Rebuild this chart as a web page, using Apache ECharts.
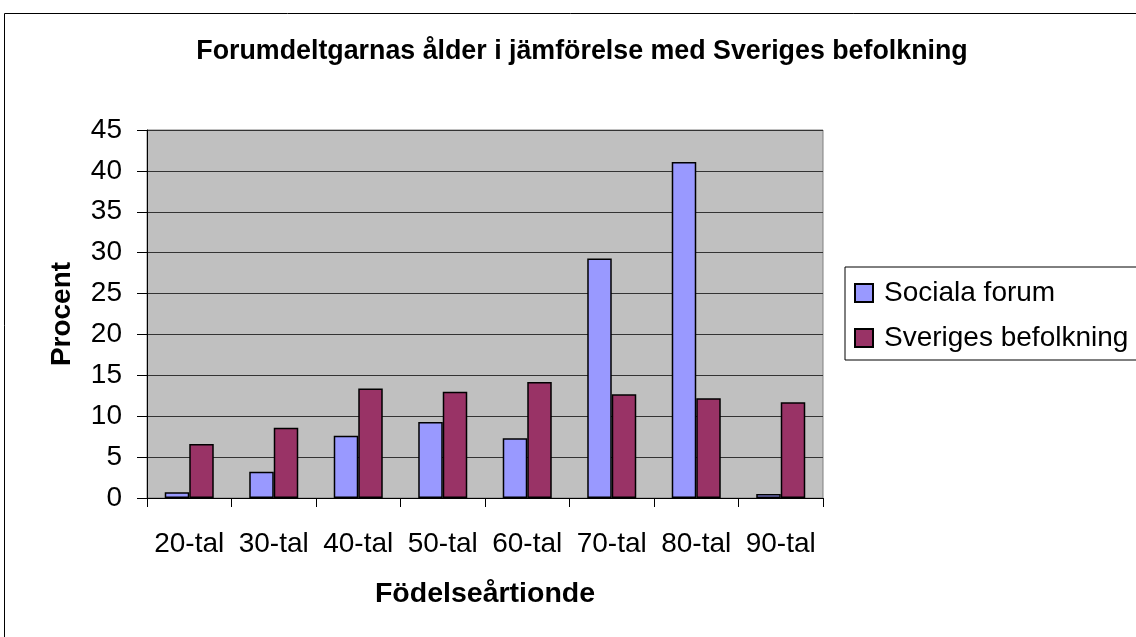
<!DOCTYPE html>
<html>
<head>
<meta charset="utf-8">
<script src="https://cdn.jsdelivr.net/npm/echarts@6/dist/echarts.min.js"></script>
<style>
  html, body { margin: 0; padding: 0; background: #fff; }
  #chart { width: 1136px; height: 637px; }
</style>
</head>
<body>
<div id="chart"></div>
<script>
// kategorier och värden
const decades = ['20-tal', '30-tal', '40-tal', '50-tal', '60-tal', '70-tal', '80-tal', '90-tal'];
const socialaForum = [0.7, 3.2, 7.6, 9.3, 7.3, 29.3, 41.1, 0.5];
const sverigesBefolkning = [6.6, 8.6, 13.4, 13.0, 14.2, 12.7, 12.2, 11.7];
const seriesNames = ['Sociala forum', 'Sveriges befolkning'];

const font = '"Liberation Sans", Arial, sans-serif';
const chart = echarts.init(document.getElementById('chart'));

chart.setOption({
  animation: false,
  backgroundColor: '#fff',
  textStyle: { fontFamily: font, color: '#000' },
  title: {
    text: 'Forumdeltgarnas ålder i jämförelse med Sveriges befolkning',
    left: 577,
    textAlign: 'center',
    top: 33,
    textStyle: { fontFamily: font, fontSize: 26.8, fontWeight: 'bold', color: '#000' }
  },
  graphic: [{
    // ram runt hela diagrammet
    type: 'rect',
    shape: { x: 4.5, y: 13.5, width: 1140, height: 640 },
    style: { fill: null, stroke: '#000', lineWidth: 1 },
    silent: true
  }],
  legend: {
    orient: 'vertical',
    left: 845,
    top: 267,
    padding: [11, 20, 7, 9],
    backgroundColor: '#fff',
    borderColor: '#000',
    borderWidth: 1,
    borderRadius: 0,
    itemWidth: 18,
    itemHeight: 18,
    itemGap: 15,
    icon: 'rect',
    textStyle: { fontFamily: font, fontSize: 28, lineHeight: 30, color: '#000', padding: [0, 0, 0, 6] },
    data: seriesNames
  },
  grid: {
    left: 147,
    right: 313,
    top: 130,
    bottom: 139,
    show: true,
    backgroundColor: '#c0c0c0',
    borderColor: '#808080',
    borderWidth: 1
  },
  xAxis: {
    type: 'category',
    data: decades,
    name: 'Födelseårtionde',
    nameLocation: 'middle',
    nameGap: 82,
    nameTextStyle: { fontFamily: font, fontSize: 28.5, fontWeight: 'bold', color: '#000' },
    axisLine: { lineStyle: { color: '#000', width: 1 } },
    axisTick: { show: true, interval: 0, length: 9, lineStyle: { color: '#000' } },
    axisLabel: { interval: 0, hideOverlap: false, fontFamily: font, fontSize: 28, color: '#000', margin: 32 },
    splitLine: { show: false }
  },
  yAxis: {
    type: 'value',
    min: 0,
    max: 45,
    interval: 5,
    name: 'Procent',
    nameLocation: 'middle',
    nameGap: 71,
    nameTextStyle: { fontFamily: font, fontSize: 28, fontWeight: 'bold', color: '#000' },
    axisLine: { show: true, lineStyle: { color: '#000', width: 1 } },
    axisTick: { show: true, length: 10, inside: false, lineStyle: { color: '#000' } },
    axisLabel: { fontFamily: font, fontSize: 28, color: '#000', margin: 25 },
    splitLine: { show: true, lineStyle: { color: '#333', width: 1 } }
  },
  series: [
    {
      name: seriesNames[0],
      type: 'bar',
      data: socialaForum,
      barGap: '0%',
      barCategoryGap: '42%',
      itemStyle: { color: '#9999ff', borderColor: '#000', borderWidth: 1.5 }
    },
    {
      name: seriesNames[1],
      type: 'bar',
      data: sverigesBefolkning,
      barGap: '0%',
      barCategoryGap: '42%',
      itemStyle: { color: '#993366', borderColor: '#000', borderWidth: 1.5 }
    }
  ]
});
</script>
</body>
</html>
